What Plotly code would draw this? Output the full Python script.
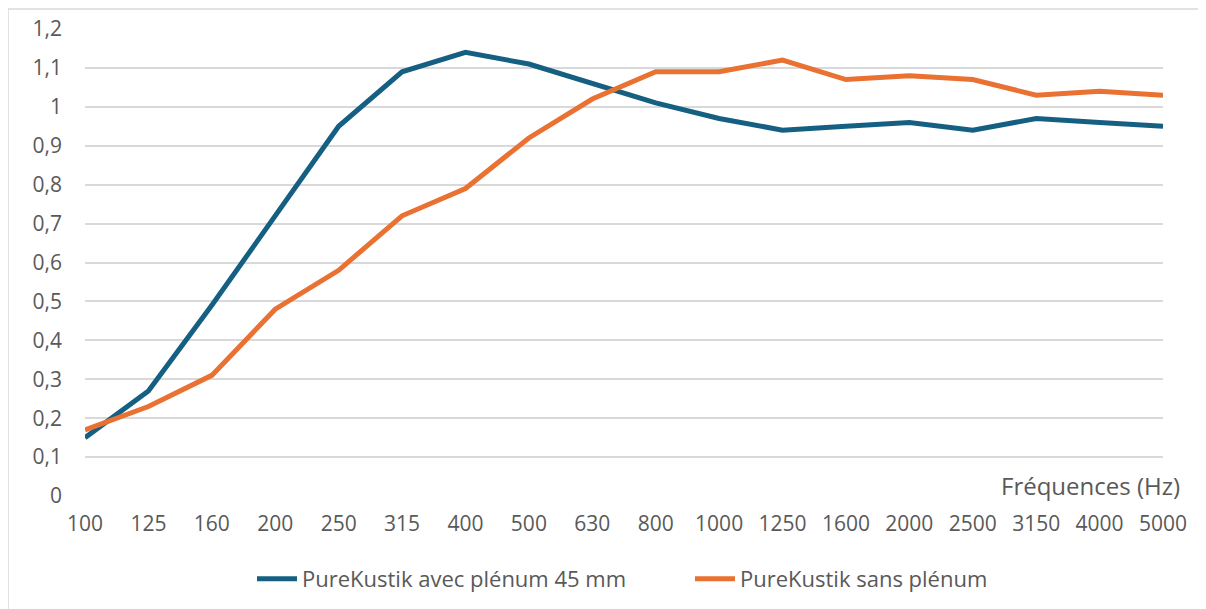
import plotly.graph_objects as go

frequencies = ["100", "125", "160", "200", "250", "315", "400", "500", "630", "800",
               "1000", "1250", "1600", "2000", "2500", "3150", "4000", "5000"]
avec_plenum = [0.15, 0.27, 0.49, 0.72, 0.95, 1.09, 1.14, 1.11, 1.06, 1.01,
               0.97, 0.94, 0.95, 0.96, 0.94, 0.97, 0.96, 0.95]
sans_plenum = [0.17, 0.23, 0.31, 0.48, 0.58, 0.72, 0.79, 0.92, 1.02, 1.09,
               1.09, 1.12, 1.07, 1.08, 1.07, 1.03, 1.04, 1.03]
y_ticks = [0, 0.1, 0.2, 0.3, 0.4, 0.5, 0.6, 0.7, 0.8, 0.9, 1.0, 1.1, 1.2]
y_ticklabels = ["0", "0,1", "0,2", "0,3", "0,4", "0,5", "0,6", "0,7", "0,8", "0,9", "1", "1,1", "1,2"]
name_avec = "PureKustik avec plénum 45 mm"
name_sans = "PureKustik sans plénum"
x_title = "Fréquences (Hz)"

idx = list(range(len(frequencies)))

# page body has an 8px margin: figure drawn 8px in from window edge
OFF = 8
W, H = 1206 - OFF, 609 - OFF
L, T = 85 - OFF, 29 - OFF
R = W - (1163 - OFF)
B = H - (496 - OFF)
pw, ph = W - L - R, H - T - B

def px_x(p):
    return (p - OFF - L) / pw

def px_y(p):
    return (H - B - (p - OFF)) / ph

fig = go.Figure()
fig.add_trace(go.Scatter(x=idx, y=avec_plenum, mode="lines", name=name_avec,
                         line=dict(color="#156082", width=5), legend="legend"))
fig.add_trace(go.Scatter(x=idx, y=sans_plenum, mode="lines", name=name_sans,
                         line=dict(color="#E97132", width=5), legend="legend2"))

FONT = "Open Sans, Inter, sans-serif"
tick_font = dict(family=FONT, size=21, color="#595959")
legend_style = dict(orientation="h", yanchor="middle", xanchor="left",
                    font=dict(family=FONT, size=22, color="#595959"),
                    itemwidth=40, bgcolor="rgba(0,0,0,0)")

fig.update_layout(
    width=W, height=H,
    margin=dict(l=L, r=R, t=T, b=B, autoexpand=False),
    paper_bgcolor="white", plot_bgcolor="white",
    xaxis=dict(range=[0, len(frequencies) - 1], tickmode="array", tickvals=idx,
               ticktext=frequencies, showgrid=False, zeroline=False, showline=False,
               tickfont=tick_font, ticks="", ticklabelstandoff=13),
    yaxis=dict(range=[0, 1.2], tickmode="array", tickvals=y_ticks, ticktext=y_ticklabels,
               showgrid=True, gridcolor="#d9d9d9", gridwidth=1.5, zeroline=False,
               showline=False, tickfont=tick_font, ticks="", ticklabelstandoff=22),
    showlegend=True,
    legend=dict(x=px_x(252), y=px_y(579), **legend_style),
    legend2=dict(x=px_x(690), y=px_y(579), **legend_style),
    annotations=[dict(text=x_title, xref="paper", yref="paper", x=px_x(1182), y=px_y(485),
                      xanchor="right", yanchor="middle", showarrow=False,
                      font=dict(family=FONT, size=24, color="#595959"))],
    shapes=[dict(type="rect", xref="paper", yref="paper", x0=px_x(8), y0=px_y(640),
                 x1=px_x(1240), y1=px_y(9), line=dict(color="#d9d9d9", width=1.5),
                 fillcolor="rgba(0,0,0,0)", layer="below")],
)

fig.write_html("out.html")
